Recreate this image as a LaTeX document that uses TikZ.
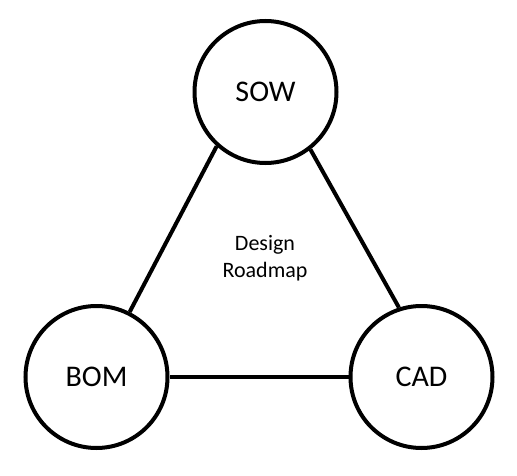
\documentclass[tikz,border=0pt]{standalone}
\usepackage{fontspec}
\setmainfont{Carlito}
\begin{document}
\begin{tikzpicture}[x=1pt,y=1pt,
  bubble/.style={circle,draw,line width=4pt,minimum size=142pt,inner sep=0pt,font=\fontsize{30}{36}\selectfont},
  link/.style={line width=4pt}]
\useasboundingbox (0,0) rectangle (517,475);
\node[bubble] (sow) at (265.5,383) {SOW};
\node[bubble] (bom) at (96.5,98) {BOM};
\node[bubble] (cad) at (421.5,98) {CAD};
\node[align=center,font=\fontsize{22}{27}\selectfont] (dr) at (265,217) {Design\\Roadmap};
\draw[link] (sow.228.7) -- (bom.63.4);
\draw[link] (sow.308.5) -- (cad.108.6);
\draw[link] (bom.east) -- (cad.west);
\end{tikzpicture}
\end{document}
